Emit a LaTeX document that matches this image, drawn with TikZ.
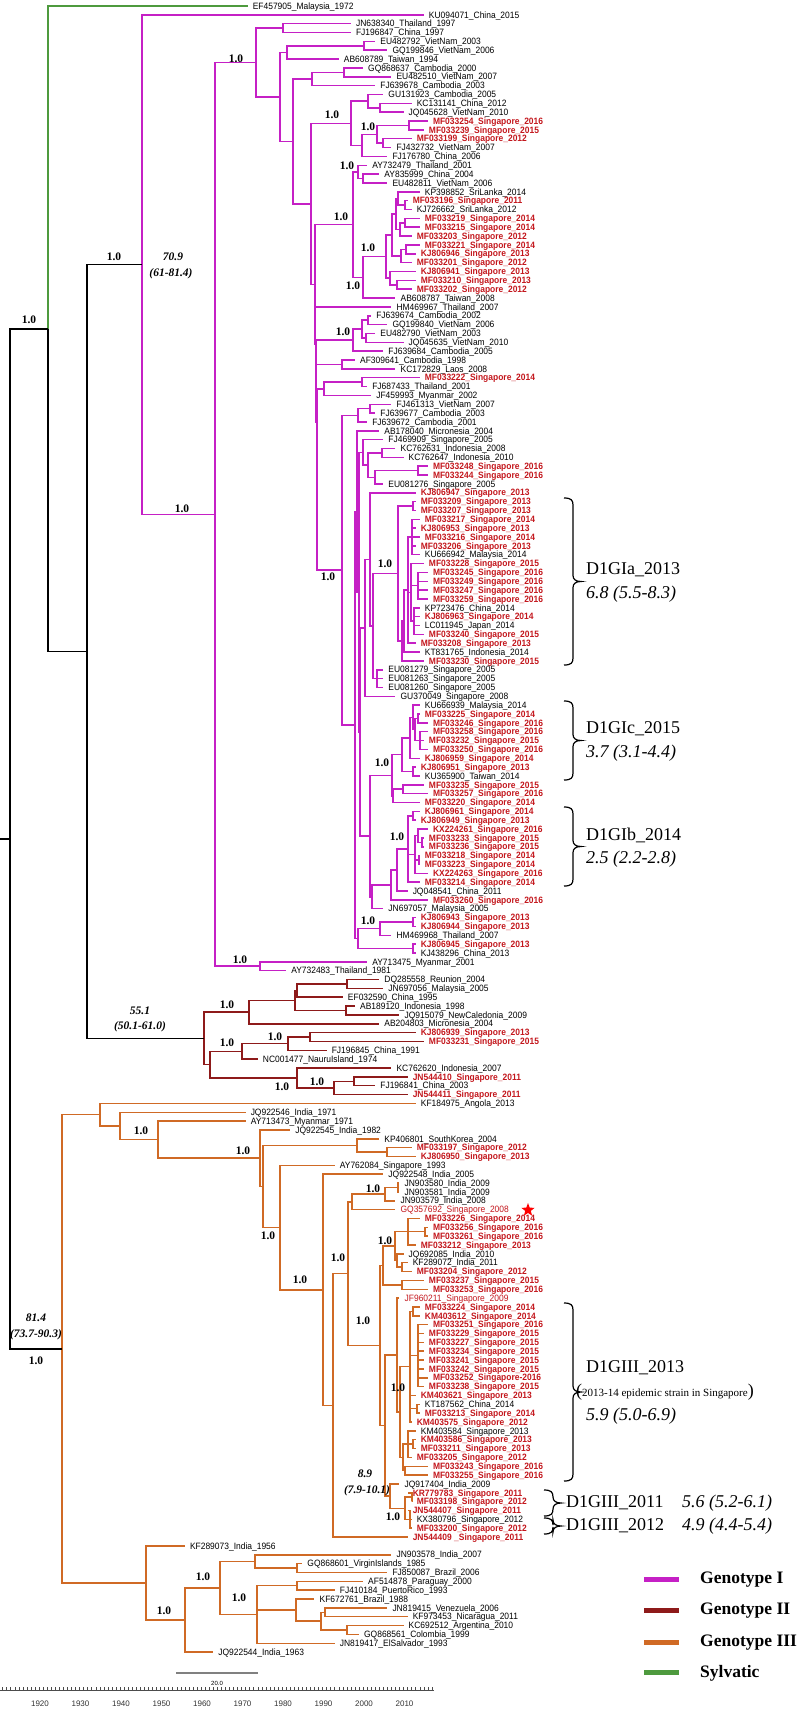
\documentclass[tikz,border=0pt]{standalone}
\usepackage{fontspec}
\setmainfont{Liberation Serif}
\newfontfamily\labf[FakeStretch=0.92]{Liberation Sans}
\newfontfamily\axf{Liberation Sans}
\usetikzlibrary{calc,shapes.geometric}
\definecolor{gI}{HTML}{C520C5}
\definecolor{gII}{HTML}{8E1A1A}
\definecolor{gIII}{HTML}{D06A25}
\definecolor{syl}{HTML}{4E9A3E}
\definecolor{sg}{HTML}{C3161C}
\tikzset{
  br/.style={line width=1.5pt},
  bk/.style={anchor=base west,inner sep=0pt,xshift=5pt,yshift=-3.2pt,font=\labf\fontsize{9.2}{9.2}\selectfont,text=black},
  rd/.style={bk,font=\labf\bfseries\fontsize{9.2}{9.2}\selectfont,text=sg},
  rn/.style={bk,text=sg},
  pl/.style={font=\bfseries\fontsize{11.5}{11.5}\selectfont,inner sep=0pt},
  ann/.style={font=\bfseries\itshape\fontsize{11.5}{11.5}\selectfont,inner sep=0pt},
  brk/.style={line width=1.2pt,black},
  big/.style={anchor=west,inner sep=0pt,font=\fontsize{18}{18}\selectfont},
  bigi/.style={anchor=west,inner sep=0pt,font=\itshape\fontsize{18}{18}\selectfont},
  leg/.style={anchor=west,inner sep=0pt,font=\bfseries\fontsize{17.5}{17.5}\selectfont},
}
\newcounter{lfc}
\newcounter{plc}
\newcommand\lf[4][bk]{%
  \stepcounter{lfc}%
  \pgfmathsetmacro\lfy{6+(\thelfc-1)*8.85}%
  \pgfmathsetmacro\lfx{39+(#4-1920)*4.05}%
  \coordinate (#2) at (\lfx,\lfy);%
  \node[#1] (t#2) at (#2) {#2\_#3\_#4};%
}
\newcommand\lfr[4][bk]{%
  \stepcounter{lfc}%
  \pgfmathsetmacro\lfy{6+(\thelfc-1)*8.85}%
  \pgfmathsetmacro\lfx{39+(#3-1920)*4.05}%
  \coordinate (#2) at (\lfx,\lfy);%
  \node[#1] (t#2) at (#2) {#4};%
}
\newcommand\nd[4][]{%
  \foreach \ch [count=\k] in {#4}{\ifnum\k=1\relax\xdef\ndfirst{\ch}\fi\xdef\ndlast{\ch}}%
  \path let \p1=(\ndfirst), \p2=(\ndlast) in coordinate (#2) at (#3pt,{(\y1+\y2)/2});%
  \foreach \ch in {#4}{\draw[br,#1] (#2) |- (\ch);}%
}
\newcommand\pl[3][1.0]{\stepcounter{plc}\node[pl] (pl\theplc) at (#2,#3) {#1};}
\newcommand\brc[4]{% name, x, ytop, ybot
  \pgfmathsetmacro\bx{#2}\pgfmathsetmacro\bt{#3}\pgfmathsetmacro\bb{#4}\pgfmathsetmacro\bm{(#3+#4)/2}%
  \coordinate (#1) at ({\bx+8},\bm);%
  \draw[brk] ({\bx-9},\bt) .. controls ({\bx-2},\bt) and (\bx,{\bt+2}) .. (\bx,{\bt+7})
    -- (\bx,{\bm-6}) .. controls (\bx,{\bm-2}) and ({\bx+3},\bm) .. (#1)
    .. controls ({\bx+3},\bm) and (\bx,{\bm+2}) .. (\bx,{\bm+6})
    -- (\bx,{\bb-7}) .. controls (\bx,{\bb-2}) and ({\bx-2},\bb) .. ({\bx-9},\bb);%
}
\begin{document}
\begin{tikzpicture}[x=1pt,y=-1pt]
\useasboundingbox (0,0) rectangle (798,1712);
% ---------------- leaves
\lfr{EF457905}{1971.5}{EF457905\_Malaysia\_1972}
\lf{KU094071}{China}{2015}
\lf{JN638340}{Thailand}{1997}
\lf{FJ196847}{China}{1997}
\lf{EU482792}{VietNam}{2003}
\lf{GQ199846}{VietNam}{2006}
\lf{AB608789}{Taiwan}{1994}
\lf{GQ868637}{Cambodia}{2000}
\lf{EU482510}{VietNam}{2007}
\lf{FJ639678}{Cambodia}{2003}
\lf{GU131923}{Cambodia}{2005}
\lf{KC131141}{China}{2012}
\lf{JQ045628}{VietNam}{2010}
\lf[rd]{MF033254}{Singapore}{2016}
\lf[rd]{MF033239}{Singapore}{2015}
\lf[rd]{MF033199}{Singapore}{2012}
\lf{FJ432732}{VietNam}{2007}
\lf{FJ176780}{China}{2006}
\lf{AY732479}{Thailand}{2001}
\lf{AY835999}{China}{2004}
\lf{EU482811}{VietNam}{2006}
\lf{KP398852}{SriLanka}{2014}
\lf[rd]{MF033196}{Singapore}{2011}
\lf{KJ726662}{SriLanka}{2012}
\lf[rd]{MF033219}{Singapore}{2014}
\lf[rd]{MF033215}{Singapore}{2014}
\lf[rd]{MF033203}{Singapore}{2012}
\lf[rd]{MF033221}{Singapore}{2014}
\lf[rd]{KJ806946}{Singapore}{2013}
\lf[rd]{MF033201}{Singapore}{2012}
\lf[rd]{KJ806941}{Singapore}{2013}
\lf[rd]{MF033210}{Singapore}{2013}
\lf[rd]{MF033202}{Singapore}{2012}
\lf{AB608787}{Taiwan}{2008}
\lf{HM469967}{Thailand}{2007}
\lf{FJ639674}{Cambodia}{2002}
\lf{GQ199840}{VietNam}{2006}
\lf{EU482790}{VietNam}{2003}
\lf{JQ045635}{VietNam}{2010}
\lf{FJ639684}{Cambodia}{2005}
\lf{AF309641}{Cambodia}{1998}
\lf{KC172829}{Laos}{2008}
\lf[rd]{MF033222}{Singapore}{2014}
\lf{FJ687433}{Thailand}{2001}
\lf{JF459993}{Myanmar}{2002}
\lf{FJ461313}{VietNam}{2007}
\lf{FJ639677}{Cambodia}{2003}
\lf{FJ639672}{Cambodia}{2001}
\lf{AB178040}{Micronesia}{2004}
\lf{FJ469909}{Singapore}{2005}
\lf{KC762631}{Indonesia}{2008}
\lf{KC762647}{Indonesia}{2010}
\lf[rd]{MF033248}{Singapore}{2016}
\lf[rd]{MF033244}{Singapore}{2016}
\lf{EU081276}{Singapore}{2005}
\lf[rd]{KJ806947}{Singapore}{2013}
\lf[rd]{MF033209}{Singapore}{2013}
\lf[rd]{MF033207}{Singapore}{2013}
\lf[rd]{MF033217}{Singapore}{2014}
\lf[rd]{KJ806953}{Singapore}{2013}
\lf[rd]{MF033216}{Singapore}{2014}
\lf[rd]{MF033206}{Singapore}{2013}
\lf{KU666942}{Malaysia}{2014}
\lf[rd]{MF033228}{Singapore}{2015}
\lf[rd]{MF033245}{Singapore}{2016}
\lf[rd]{MF033249}{Singapore}{2016}
\lf[rd]{MF033247}{Singapore}{2016}
\lf[rd]{MF033259}{Singapore}{2016}
\lf{KP723476}{China}{2014}
\lf[rd]{KJ806963}{Singapore}{2014}
\lf{LC011945}{Japan}{2014}
\lf[rd]{MF033240}{Singapore}{2015}
\lf[rd]{MF033208}{Singapore}{2013}
\lf{KT831765}{Indonesia}{2014}
\lf[rd]{MF033230}{Singapore}{2015}
\lf{EU081279}{Singapore}{2005}
\lf{EU081263}{Singapore}{2005}
\lf{EU081260}{Singapore}{2005}
\lf{GU370049}{Singapore}{2008}
\lf{KU666939}{Malaysia}{2014}
\lf[rd]{MF033225}{Singapore}{2014}
\lf[rd]{MF033246}{Singapore}{2016}
\lf[rd]{MF033258}{Singapore}{2016}
\lf[rd]{MF033232}{Singapore}{2015}
\lf[rd]{MF033250}{Singapore}{2016}
\lf[rd]{KJ806959}{Singapore}{2014}
\lf[rd]{KJ806951}{Singapore}{2013}
\lf{KU365900}{Taiwan}{2014}
\lf[rd]{MF033235}{Singapore}{2015}
\lf[rd]{MF033257}{Singapore}{2016}
\lf[rd]{MF033220}{Singapore}{2014}
\lf[rd]{KJ806961}{Singapore}{2014}
\lf[rd]{KJ806949}{Singapore}{2013}
\lf[rd]{KX224261}{Singapore}{2016}
\lf[rd]{MF033233}{Singapore}{2015}
\lf[rd]{MF033236}{Singapore}{2015}
\lf[rd]{MF033218}{Singapore}{2014}
\lf[rd]{MF033223}{Singapore}{2014}
\lf[rd]{KX224263}{Singapore}{2016}
\lf[rd]{MF033214}{Singapore}{2014}
\lf{JQ048541}{China}{2011}
\lf[rd]{MF033260}{Singapore}{2016}
\lf{JN697057}{Malaysia}{2005}
\lf[rd]{KJ806943}{Singapore}{2013}
\lf[rd]{KJ806944}{Singapore}{2013}
\lf{HM469968}{Thailand}{2007}
\lf[rd]{KJ806945}{Singapore}{2013}
\lf{KJ438296}{China}{2013}
\lf{AY713475}{Myanmar}{2001}
\lf{AY732483}{Thailand}{1981}
\lf{DQ285558}{Reunion}{2004}
\lf{JN697056}{Malaysia}{2005}
\lf{EF032590}{China}{1995}
\lf{AB189120}{Indonesia}{1998}
\lf{JQ915079}{NewCaledonia}{2009}
\lf{AB204803}{Micronesia}{2004}
\lf[rd]{KJ806939}{Singapore}{2013}
\lf[rd]{MF033231}{Singapore}{2015}
\lf{FJ196845}{China}{1991}
\lf{NC001477}{NauruIsland}{1974}
\lf{KC762620}{Indonesia}{2007}
\lf[rd]{JN544410}{Singapore}{2011}
\lf{FJ196841}{China}{2003}
\lf[rd]{JN544411}{Singapore}{2011}
\lf{KF184975}{Angola}{2013}
\lf{JQ922546}{India}{1971}
\lf{AY713473}{Myanmar}{1971}
\lf{JQ922545}{India}{1982}
\lf{KP406801}{SouthKorea}{2004}
\lf[rd]{MF033197}{Singapore}{2012}
\lf[rd]{KJ806950}{Singapore}{2013}
\lf{AY762084}{Singapore}{1993}
\lf{JQ922548}{India}{2005}
\lf{JN903580}{India}{2009}
\lf{JN903581}{India}{2009}
\lf{JN903579}{India}{2008}
\lf[rn]{GQ357692}{Singapore}{2008}
\lf[rd]{MF033226}{Singapore}{2014}
\lf[rd]{MF033256}{Singapore}{2016}
\lf[rd]{MF033261}{Singapore}{2016}
\lf[rd]{MF033212}{Singapore}{2013}
\lf{JQ692085}{India}{2010}
\lf{KF289072}{India}{2011}
\lf[rd]{MF033204}{Singapore}{2012}
\lf[rd]{MF033237}{Singapore}{2015}
\lf[rd]{MF033253}{Singapore}{2016}
\lf[rn]{JF960211}{Singapore}{2009}
\lf[rd]{MF033224}{Singapore}{2014}
\lf[rd]{KM403612}{Singapore}{2014}
\lf[rd]{MF033251}{Singapore}{2016}
\lf[rd]{MF033229}{Singapore}{2015}
\lf[rd]{MF033227}{Singapore}{2015}
\lf[rd]{MF033234}{Singapore}{2015}
\lf[rd]{MF033241}{Singapore}{2015}
\lf[rd]{MF033242}{Singapore}{2015}
\lfr[rd]{MF033252}{2016}{MF033252\_Singapore-2016}
\lf[rd]{MF033238}{Singapore}{2015}
\lf[rd]{KM403621}{Singapore}{2013}
\lf{KT187562}{China}{2014}
\lf[rd]{MF033213}{Singapore}{2014}
\lf[rd]{KM403575}{Singapore}{2012}
\lf{KM403584}{Singapore}{2013}
\lf[rd]{KM403586}{Singapore}{2013}
\lf[rd]{MF033211}{Singapore}{2013}
\lf[rd]{MF033205}{Singapore}{2012}
\lf[rd]{MF033243}{Singapore}{2016}
\lf[rd]{MF033255}{Singapore}{2016}
\lf{JQ917404}{India}{2009}
\lf[rd]{KR779783}{Singapore}{2011}
\lf[rd]{MF033198}{Singapore}{2012}
\lf[rd]{JN544407}{Singapore}{2011}
\lf{KX380796}{Singapore}{2012}
\lf[rd]{MF033200}{Singapore}{2012}
\lfr[rd]{JN544409}{2011}{JN544409 \_Singapore\_2011}
\lf{KF289073}{India}{1956}
\lf{JN903578}{India}{2007}
\lf{GQ868601}{VirginIslands}{1985}
\lf{FJ850087}{Brazil}{2006}
\lf{AF514878}{Paraguay}{2000}
\lf{FJ410184}{PuertoRico}{1993}
\lf{KF672761}{Brazil}{1988}
\lf{JN819415}{Venezuela}{2006}
\lf{KF973453}{Nicaragua}{2011}
\lf{KC692512}{Argentina}{2010}
\lf{GQ868561}{Colombia}{1999}
\lf{JN819417}{ElSalvador}{1993}
\lf{JQ922544}{India}{1963}
% ---------------- genotype I
\begin{scope}[color=gI]
\nd{a283}{283}{JN638340,FJ196847}
\nd{a364}{364}{EU482792,GQ199846}
\nd{a287}{287}{a364,AB608789}
\nd{a344}{344}{GQ868637,EU482510}
\nd{a312}{312}{a344,FJ639678}
\nd{a380}{380}{KC131141,JQ045628}
\nd{a368}{368}{GU131923,a380}
\nd{a409}{409}{MF033254,MF033239}
\nd{a383}{383}{MF033199,FJ432732}
\nd{a377}{377}{a409,a383}
\nd{a362}{362}{a377,FJ176780}
\nd{a351}{351}{a368,a362}
\nd{b363}{363}{AY835999,EU482811}
\nd{b358}{358}{AY732479,b363}
\nd{c405a}{405}{MF033196,KJ726662}
\nd{c398}{398}{KP398852,c405a}
\nd{c405b}{405}{MF033219,MF033215}
\nd{c400}{400}{c405b,MF033203}
\nd{c396}{396}{c398,c400}
\nd{c406}{406}{MF033221,KJ806946}
\nd{c401}{401}{c406,MF033201}
\nd{c392}{392}{c396,c401}
\nd{c397}{397}{MF033210,MF033202}
\nd{c390}{390}{KJ806941,c397}
\nd{c386}{386}{c392,c390}
\nd{c363}{363}{c386,AB608787}
\nd{c353}{353}{b358,c363}
\nd{d368}{368}{FJ639674,GQ199840}
\nd{d366}{366}{EU482790,JQ045635}
\nd{d362}{362}{d368,d366}
\nd{d353}{353}{d362,FJ639684}
\nd{e342}{342}{AF309641,KC172829}
\nd{f362}{362}{MF033222,FJ687433}
\nd{f324}{324}{f362,JF459993}
\nd{g370}{370}{FJ461313,FJ639677}
\nd{g358}{358}{g370,FJ639672}
\nd{h382}{382}{KC762631,KC762647}
\nd{h418}{418}{MF033248,MF033244}
\nd{h375}{375}{h418,EU081276}
\nd{h368}{368}{h382,h375}
\nd{h363}{363}{FJ469909,h368}
\nd{i413}{413}{MF033209,MF033207}
\nd{i412}{412}{MF033217,KJ806953,MF033216,MF033206,KU666942}
\nd{i418}{418}{MF033245,MF033249,MF033247,MF033259}
\nd{i414}{414}{KP723476,KJ806963,LC011945,MF033240}
\nd{i411}{411}{MF033228,i418,i414}
\nd{i408}{408}{i412,i411,MF033208}
\nd{i404}{404}{i408,KT831765}
\nd{i402}{402}{i404,MF033230}
\nd{i398}{398}{i413,i402}
\nd{j377}{377}{EU081279,EU081263,EU081260}
\nd{j373}{373}{i398,j377}
\nd{j370}{370}{KJ806947,j373}
\nd{j365}{365}{j370,GU370049}
\nd{k418}{418}{MF033225,MF033246}
\nd{k420}{420}{MF033258,MF033232,MF033250}
\nd{k415}{415}{k418,k420}
\nd{k413}{413}{KU666939,k415}
\nd{k410}{410}{k413,KJ806959}
\nd{k413b}{413}{KJ806951,KU365900}
\nd{k402}{402}{k410,k413b}
\nd{k403}{403}{MF033235,MF033257}
\nd{k393}{393}{k403,MF033220}
\nd{k392}{392}{k402,k393}
\nd{l413}{413}{KJ806961,KJ806949}
\nd{l422}{422}{MF033233,MF033236}
\nd{l418}{418}{KX224261,l422}
\nd{l419}{419}{MF033218,MF033223}
\nd{l415}{415}{l418,l419,KX224263}
\nd{l408}{408}{l413,l415,MF033214}
\nd{l397}{397}{l408,JQ048541}
\nd{l391}{391}{l397,MF033260}
\nd{l372}{372}{l391,JN697057}
\nd{l370}{370}{k392,l372}
\nd{m360}{360}{j365,l370}
\nd{m359}{359}{h363,m360}
\nd{m357}{357}{AB178040,m359}
\nd{o413}{413}{KJ806943,KJ806944}
\nd{o380}{380}{o413,HM469968}
\nd{o413b}{413}{KJ806945,KJ438296}
\nd{o358}{358}{o380,o413b}
\nd{n355}{355}{m357,o358}
\nd{n342}{342}{g358,n355}
\nd{q317}{317}{f324,n342}
\nd{q316b}{316.5}{e342,q317}
\nd{q316}{316}{d353,q316b}
\nd{q315b}{315.5}{HM469967,q316}
\nd{q315}{315}{c353,q315b}
\nd{q311}{311}{a351,q315}
\nd{q293}{293}{a312,q311}
\nd{q280}{280}{a287,q293}
\nd{q256}{256}{a283,q280}
\nd{r260}{260}{AY713475,AY732483}
\nd{P215}{215}{q256,r260}
\nd{GI}{142}{KU094071,P215}
\end{scope}
% ---------------- genotype II
\begin{scope}[color=gII]
\nd{s347}{347}{DQ285558,JN697056}
\nd{s297}{297}{s347,EF032590}
\nd{s346}{346}{AB189120,JQ915079}
\nd{s295}{295}{s297,s346}
\nd{s249}{249}{s295,AB204803}
\nd{s310}{310}{KJ806939,MF033231}
\nd{s288}{288}{s310,FJ196845}
\nd{s242}{242}{s288,NC001477}
\nd{s354}{354}{JN544410,FJ196841}
\nd{s334}{334}{s354,JN544411}
\nd{s297b}{297}{KC762620,s334}
\nd{s210}{210}{s242,s297b}
\nd{GII}{204}{s249,s210}
\end{scope}
% ---------------- genotype III
\begin{scope}[color=gIII]
\nd{u387}{387}{MF033197,KJ806950}
\nd{u357}{357}{KP406801,u387}
\nd{v398}{398}{JN903580,JN903581}
\nd{v385}{385}{v398,JN903579}
\nd{v352}{352}{v385,GQ357692}
\nd{w425}{425}{MF033256,MF033261}
\nd{w408}{408}{MF033226,w425,MF033212}
\nd{w402}{402}{KF289072,MF033204}
\nd{w397}{397}{JQ692085,w402}
\nd{w395}{395}{w408,w397}
\nd{w402b}{402}{MF033237,MF033253}
\nd{w383}{383}{w395,w402b}
\nd{x413}{413}{MF033224,KM403612}
\nd{x418}{418}{MF033251,MF033229,MF033227,MF033234,MF033241,MF033242,MF033252,MF033238}
\nd{x417}{417}{KT187562,MF033213}
\nd{x410}{410}{x413,x418,KM403621,x417,KM403575}
\nd{x413b}{413}{KM403586,MF033211}
\nd{x408}{408}{KM403584,x413b,MF033205}
\nd{x405}{405}{MF033243,MF033255}
\nd{x403}{403}{x408,x405}
\nd{x400}{400}{x410,x403}
\nd{x397}{397}{JF960211,x400}
\nd{y412}{412}{KR779783,MF033198}
\nd{y410}{410}{JN544407,KX380796,MF033200}
\nd{y405}{405}{y412,y410}
\nd{y390}{390}{JQ917404,y405}
\nd{y385}{385}{x397,y390}
\nd{w380}{380}{w383,y385}
\nd{w348}{348}{v352,w380}
\nd{w333}{333}{w348,JN544409}
\nd{w323}{323}{JQ922548,w333}
\nd{w280}{280}{AY762084,w323}
\nd{w263}{263}{u357,w280}
\nd{w260}{260}{JQ922545,w263}
\nd{w158}{158}{AY713473,w260}
\nd{z297}{297}{GQ868601,FJ850087}
\nd{z255}{255}{JN903578,z297}
\nd{z297b}{297}{AF514878,FJ410184}
\nd{z325}{325}{JN819415,KF973453}
\nd{z347}{347}{KC692512,GQ868561}
\nd{z321}{321}{z325,z347}
\nd{z296}{296}{KF672761,z321}
\nd{z257}{257}{z297b,z296,JN819417}
\nd{z220}{220}{z255,z257}
\nd{z185}{185}{z220,JQ922544}
\nd{z146}{146}{KF289073,z185}
\nd{g3j}{120}{JQ922546,w158}
\nd{g3k}{100}{KF184975,g3j}
\nd{GIII}{62}{g3k,z146}
\end{scope}
% ---------------- backbone
\nd[black]{GG}{87}{GI,GII}
\nd[black]{A}{48}{EF457905,GG}
\draw[br,syl] (A) |- (EF457905);
\nd[black]{R}{10}{A,GIII}
\coordinate (O) at (0,0);
\draw[br] (R) -- (R -| O);
% ---------------- posterior labels
\pl{236}{59} \pl{332}{115} \pl{368}{127} \pl{347}{166} \pl{341}{217}
\pl{368}{248} \pl{353}{286} \pl{343}{332} \pl{182}{509} \pl{385}{564}
\pl{328}{577} \pl{382}{763} \pl{397}{837} \pl{368}{921} \pl{240}{960}
\pl{227}{1005} \pl{275}{1037} \pl{227}{1043} \pl{317}{1082} \pl{282}{1087}
\pl{243}{1151} \pl{141}{1131} \pl{373}{1189} \pl{268}{1236} \pl{385}{1241}
\pl{338}{1258} \pl{300}{1280} \pl{363}{1321} \pl{398}{1388} \pl{393}{1517}
\pl{203}{1577} \pl{239}{1598} \pl{164}{1611} \pl{114}{257} \pl{29}{320}
\pl{36}{1361}
\node[ann] (a709) at (173,257) {70.9};
\node[ann] (a709b) at (171,274) {(61-81.4)};
\node[ann] (a551) at (140,1011) {55.1};
\node[ann] (a551b) at (140,1027) {(50.1-61.0)};
\node[ann] (a89) at (365,1474) {8.9};
\node[ann] (a89b) at (367,1491) {(7.9-10.1)};
\node[ann] (a814) at (36,1318) {81.4};
\node[ann] (a814b) at (36,1335) {(73.7-90.3)};
% ---------------- star
\node[star,star points=5,star point ratio=2.4,fill=red,inner sep=0pt,minimum size=14pt] (star) at (528,1210) {};
% ---------------- clade brackets
\brc{bA}{573}{498}{665}
\node[big] (tA) at (586,570) {D1GIa\_2013};
\node[bigi] (tAb) at (586,594) {6.8 (5.5-8.3)};
\brc{bC}{573}{701}{780}
\node[big] (tC) at (586,729) {D1GIc\_2015};
\node[bigi] (tCb) at (586,753) {3.7 (3.1-4.4)};
\brc{bB}{573}{807}{886}
\node[big] (tB) at (586,835) {D1GIb\_2014};
\node[bigi] (tBb) at (586,859) {2.5 (2.2-2.8)};
\brc{bD}{573}{1303}{1481}
\node[big] (tD) at (586,1368) {D1GIII\_2013};
\node[anchor=west,inner sep=0pt] (tDb) at (576,1392) {{\fontsize{18}{18}\selectfont(}{\fontsize{11}{11}\selectfont 2013-14 epidemic strain in Singapore}{\fontsize{18}{18}\selectfont)}};
\node[bigi] (tDc) at (586,1416) {5.9 (5.0-6.9)};
\brc{bE}{553}{1490}{1516}
\node[big] (tE) at (566,1503) {D1GIII\_2011};
\node[bigi] (tEb) at (682,1503) {5.6 (5.2-6.1)};
\brc{bF}{553}{1518}{1534}
\node[big] (tF) at (566,1526) {D1GIII\_2012};
\node[bigi] (tFb) at (682,1526) {4.9 (4.4-5.4)};
% ---------------- legend
\fill[gI] (644,1577) rectangle (679,1582);
\node[leg] (lg1) at (700,1580) {Genotype I};
\fill[gII] (644,1608) rectangle (679,1613);
\node[leg] (lg2) at (700,1611) {Genotype II};
\fill[gIII] (644,1640) rectangle (679,1645);
\node[leg] (lg3) at (700,1643) {Genotype III};
\fill[syl] (644,1670) rectangle (679,1675);
\node[leg] (lg4) at (700,1673) {Sylvatic};
% ---------------- scale bar and axis
\coordinate (sb1) at (176,1673);
\coordinate (sb2) at (258,1673);
\draw[line width=1.5pt,gray] (sb1) -- (sb2);
\node[font=\axf\fontsize{6}{6}\selectfont,inner sep=0pt] (sbl) at (217,1683) {20.0};
\coordinate (ax1) at (0,1690);
\coordinate (ax2) at (434,1690);
\draw[line width=0.6pt,black!70] (ax1) -- (ax2);
\foreach \yr in {1911,...,2017}{\draw[line width=0.4pt,black!70] ({39+(\yr-1920)*4.05},1687) -- ({39+(\yr-1920)*4.05},1690);}
\foreach \yr in {1920,1930,...,2010}{\node[font=\axf\fontsize{8}{8}\selectfont,inner sep=0pt,text=black!80] (yr\yr) at ({40+(\yr-1920)*4.05},1704) {\yr};}
\end{tikzpicture}
\end{document}
